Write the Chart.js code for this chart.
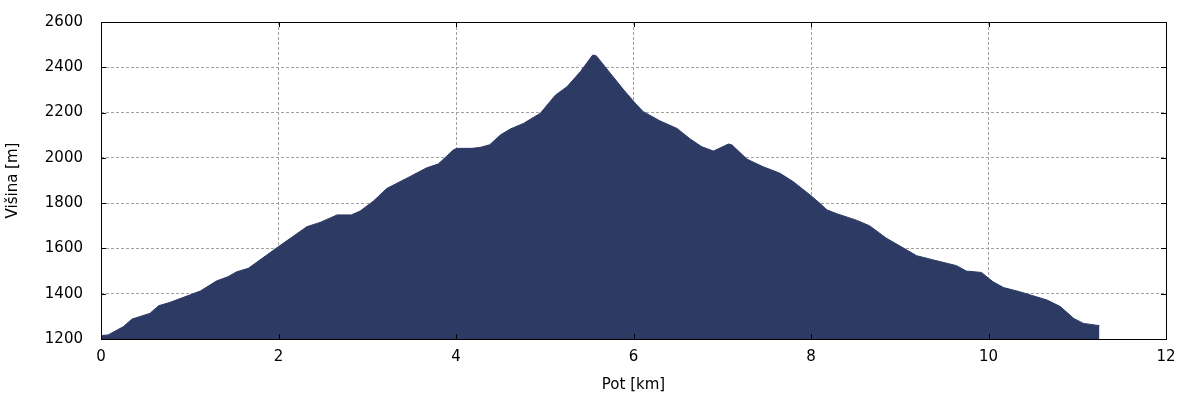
<!DOCTYPE html>
<html>
<head>
<meta charset="utf-8">
<script src="https://cdn.jsdelivr.net/npm/chart.js@4"></script>
<style>
  html, body { margin: 0; padding: 0; background: #fff; }
  #wrap { width: 1200px; height: 400px; }
</style>
</head>
<body>
<div id="wrap"><canvas id="chart"></canvas></div>
<script>
// profil poti: razdalja [km] in višina [m]
const distance = [0, 0.08, 0.25, 0.35, 0.55, 0.65, 0.78, 1.12, 1.30, 1.43, 1.53, 1.66, 2.0, 2.32, 2.47,
  2.66, 2.82, 2.92, 3.07, 3.22, 3.48, 3.67, 3.80, 3.97, 4.01, 4.18, 4.27, 4.38, 4.50, 4.61, 4.76,
  4.95, 5.12, 5.25, 5.40, 5.54, 5.58, 5.74, 5.89, 6.02, 6.11, 6.30, 6.49, 6.64, 6.77, 6.90, 7.07,
  7.11, 7.28, 7.46, 7.65, 7.80, 7.99, 8.10, 8.18, 8.30, 8.51, 8.66, 8.85, 9.08, 9.19, 9.38, 9.64,
  9.75, 9.92, 10.05, 10.17, 10.35, 10.66, 10.81, 10.96, 11.07, 11.25]
const elevation = [1215, 1218, 1254, 1288, 1313, 1347, 1362, 1412, 1456, 1475, 1497, 1512, 1608, 1696, 1715,
  1748, 1748, 1765, 1809, 1865, 1917, 1956, 1973, 2035, 2042, 2042, 2046, 2058, 2101, 2127, 2152,
  2197, 2277, 2314, 2380, 2454, 2451, 2373, 2300, 2241, 2204, 2163, 2130, 2083, 2049, 2030, 2061,
  2057, 1994, 1961, 1932, 1895, 1836, 1799, 1770, 1752, 1725, 1700, 1645, 1593, 1568, 1549, 1524,
  1500, 1494, 1453, 1427, 1409, 1372, 1343, 1291, 1269, 1259]
const xTicks = [0, 2, 4, 6, 8, 10, 12]
const yTicks = [1200, 1400, 1600, 1800, 2000, 2200, 2400, 2600]

const fillColor = "#2c3a64"
const tickFont = { family: "DejaVu Sans", size: 15 }

// gnuplot-style frame with inward ticks on all four sides
const framePlugin = {
  id: "frame",
  afterDraw(chart) {
    const { ctx, chartArea: a, scales } = chart
    const len = 5
    ctx.save()
    ctx.strokeStyle = "#000"
    ctx.lineWidth = 1
    ctx.beginPath()
    xTicks.forEach(v => {
      const px = Math.round(scales.x.getPixelForValue(v)) + 0.5
      ctx.moveTo(px, a.bottom); ctx.lineTo(px, a.bottom - len)
      ctx.moveTo(px, a.top); ctx.lineTo(px, a.top + len)
    })
    yTicks.forEach(v => {
      const py = Math.round(scales.y.getPixelForValue(v)) + 0.5
      ctx.moveTo(a.left, py); ctx.lineTo(a.left + len, py)
      ctx.moveTo(a.right, py); ctx.lineTo(a.right - len, py)
    })
    ctx.stroke()
    ctx.strokeRect(Math.round(a.left) + 0.5, Math.round(a.top) + 0.5,
      Math.round(a.right - a.left), Math.round(a.bottom - a.top))
    ctx.restore()
  }
}

new Chart(document.getElementById("chart"), {
  type: "line",
  data: {
    datasets: [{
      label: "Višina",
      data: distance.map((d, i) => ({ x: d, y: elevation[i] })),
      borderColor: fillColor,
      backgroundColor: fillColor,
      borderWidth: 1,
      fill: "start",
      pointRadius: 0,
      tension: 0
    }]
  },
  options: {
    responsive: true,
    maintainAspectRatio: false,
    animation: false,
    layout: { padding: { left: 0, right: 34, top: 22, bottom: 0 } },
    plugins: {
      legend: { display: false },
      tooltip: { enabled: false }
    },
    scales: {
      x: {
        type: "linear",
        min: 0,
        max: 12,
        afterBuildTicks: s => { s.ticks = xTicks.map(v => ({ value: v })) },
        afterFit: s => { s.height = 61; s.paddingLeft = 0; s.paddingRight = 0 },
        grid: { color: "#a0a0a0", drawTicks: false },
        border: { display: false, dash: [3, 2] },
        ticks: { color: "#000", font: tickFont, padding: 9, callback: v => String(v) },
        title: { display: true, text: "Pot [km]", color: "#000", font: tickFont, padding: { top: 4, bottom: 6 } }
      },
      y: {
        min: 1200,
        max: 2600,
        afterBuildTicks: s => { s.ticks = yTicks.map(v => ({ value: v })) },
        afterFit: s => { s.width = 101; s.paddingTop = 0; s.paddingBottom = 0 },
        grid: { color: "#a0a0a0", drawTicks: false },
        border: { display: false, dash: [3, 2] },
        ticks: { color: "#000", font: tickFont, padding: 18, callback: v => String(v) },
        title: { display: true, text: "Višina [m]", color: "#000", font: tickFont, padding: { top: 4, bottom: 4 } }
      }
    }
  },
  plugins: [framePlugin]
})
</script>
</body>
</html>
